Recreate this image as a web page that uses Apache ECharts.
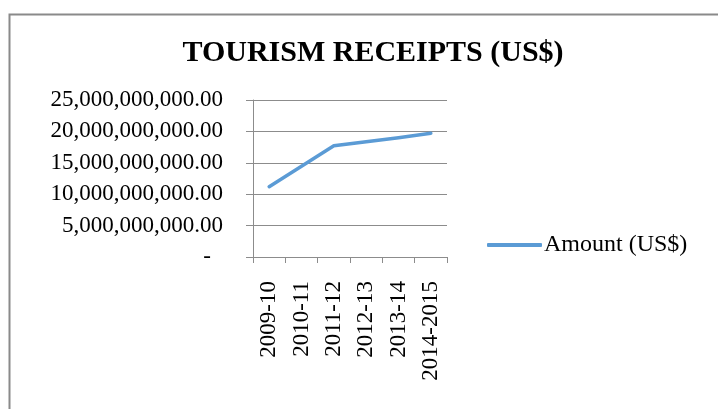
<!DOCTYPE html>
<html>
<head>
<meta charset="utf-8">
<script src="https://cdn.jsdelivr.net/npm/echarts@6/dist/echarts.min.js"></script>
<style>
  html, body { margin: 0; padding: 0; background: #fff; }
  #main { width: 718px; height: 409px; }
</style>
</head>
<body>
<div id="main"></div>
<script>
var myChart = echarts.init(document.getElementById('main'));

// data
var years = ['2009-10', '2010-11', '2011-12', '2012-13', '2013-14', '2014-2015'];
var amount = [11200000000, 14450000000, 17700000000, 18350000000, 19000000000, 19700000000];
var yTicks = [0, 5000000000, 10000000000, 15000000000, 20000000000, 25000000000];

var serif = '"Liberation Serif", "Times New Roman", serif';

function fmtMoney(v) {
    if (v === 0) return '{dash|-}';
    var s = Math.round(v).toString().replace(/\B(?=(\d{3})+(?!\d))/g, ',');
    return s + '.00';
}

var option = {
    backgroundColor: '#fff',
    animation: false,
    graphic: [
        {
            type: 'rect',
            left: 7,
            top: 12,
            shape: { width: 760, height: 460 },
            style: { fill: 'none', stroke: '#8a8a8a', lineWidth: 2 },
            silent: true
        }
    ],
    title: {
        text: 'TOURISM RECEIPTS (US$)',
        left: 368,
        textAlign: 'center',
        top: 33,
        textStyle: {
            fontFamily: serif,
            fontWeight: 'bold',
            fontSize: 30,
            color: '#000'
        }
    },
    legend: {
        data: ['Amount (US$)'],
        left: 487,
        top: 233,
        padding: 0,
        icon: 'roundRect',
        itemWidth: 55,
        itemHeight: 4,
        itemGap: 4,
        textStyle: {
            fontFamily: serif,
            fontSize: 24,
            color: '#000',
            padding: [0, 0, 0, -3]
        }
    },
    grid: {
        left: 253,
        right: 271,
        top: 100,
        bottom: 152
    },
    xAxis: {
        type: 'category',
        data: years,
        boundaryGap: true,
        axisLine: { lineStyle: { color: '#8c8c8c', width: 1 } },
        axisTick: { show: true, length: 6, alignWithLabel: false, lineStyle: { color: '#8c8c8c' } },
        axisLabel: {
            rotate: 90,
            interval: 0,
            margin: 24,
            fontFamily: serif,
            fontSize: 23,
            color: '#000'
        }
    },
    yAxis: {
        type: 'value',
        min: yTicks[0],
        max: yTicks[yTicks.length - 1],
        interval: yTicks[1] - yTicks[0],
        axisLine: { show: true, lineStyle: { color: '#8c8c8c', width: 1 } },
        axisTick: { show: true, length: 7, lineStyle: { color: '#8c8c8c' } },
        splitLine: { show: true, lineStyle: { color: '#8c8c8c', width: 1 } },
        axisLabel: {
            margin: 30,
            fontFamily: serif,
            fontSize: 23,
            color: '#000',
            formatter: fmtMoney,
            rich: {
                dash: {
                    fontFamily: serif,
                    fontSize: 23,
                    color: '#000',
                    padding: [0, 12, 0, 0]
                }
            }
        }
    },
    series: [
        {
            name: 'Amount (US$)',
            type: 'line',
            data: amount,
            symbol: 'none',
            itemStyle: { color: '#5b9bd5' },
            lineStyle: { color: '#5b9bd5', width: 3.5, cap: 'round', join: 'round' }
        }
    ]
};

myChart.setOption(option);
</script>
</body>
</html>
